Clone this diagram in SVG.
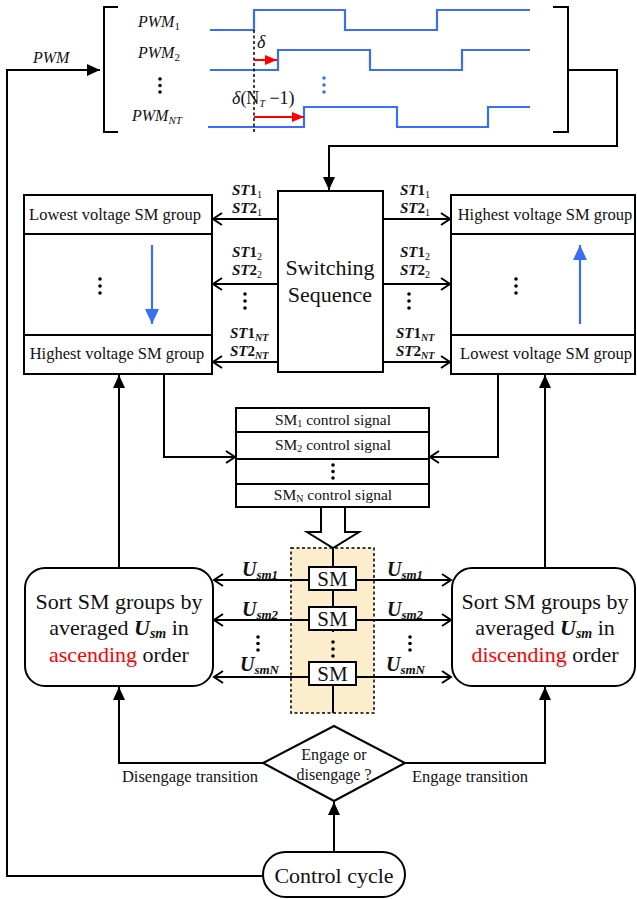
<svg xmlns="http://www.w3.org/2000/svg" width="637" height="899" viewBox="0 0 637 899" font-family="'Liberation Serif', serif">
<style>
text{font-family:"Liberation Serif",serif;fill:#111}
.ln{fill:none;stroke:#000;stroke-width:2}
.box{fill:#fff;stroke:#000;stroke-width:2}
.wave{fill:none;stroke:#3a6ff5;stroke-width:2.2}
.it{font-style:italic}
.up{font-style:normal}
.b{font-weight:bold}
</style>
<defs>
<marker id="af" markerUnits="userSpaceOnUse" markerWidth="14" markerHeight="12" refX="13" refY="6" orient="auto"><path d="M0,0 L13,6 L0,12 z" fill="#000"/></marker>
<marker id="ao" markerUnits="userSpaceOnUse" markerWidth="12" markerHeight="16" refX="10" refY="7" orient="auto"><path d="M1,1 L10,7 L1,13" fill="none" stroke="#000" stroke-width="2"/></marker>
<marker id="ab" markerUnits="userSpaceOnUse" markerWidth="14" markerHeight="16" refX="15" refY="7" orient="auto"><path d="M0,0 L15,7 L0,14 z" fill="#3a6ff5"/></marker>
<marker id="ar" markerUnits="userSpaceOnUse" markerWidth="12" markerHeight="10" refX="12" refY="5" orient="auto"><path d="M0,0 L12,5 L0,10 z" fill="#f00"/></marker>
</defs>

<g id="pwm-waves">
<path class="ln" d="M118,7 H104 V132 H118"/>
<path class="ln" d="M553,7 H568 V132 H553"/>
<text x="138" y="27" font-size="16" class="it">PWM<tspan font-size="11" dy="3" class="up">1</tspan></text>
<text x="138" y="58" font-size="16" class="it">PWM<tspan font-size="11" dy="3" class="up">2</tspan></text>
<text x="132" y="121" font-size="16" class="it">PWM<tspan font-size="11" dy="3">NT</tspan></text>
<g fill="#000"><circle cx="160" cy="79" r="1.8"/><circle cx="160" cy="85.5" r="1.8"/><circle cx="160" cy="92" r="1.8"/></g>
<path class="wave" d="M210,30 H254 V10 H345 V30 H437 V10 H530"/>
<path class="wave" d="M210,70 H278 V50 H370 V70 H462 V50 H530"/>
<path class="wave" d="M208,127 H304 V107 H397 V127 H488 V107 H530"/>
<g fill="#3a6ff5"><circle cx="324" cy="78" r="1.8"/><circle cx="324" cy="85" r="1.8"/><circle cx="324" cy="92" r="1.8"/></g>
<line x1="254" y1="30" x2="254" y2="132" stroke="#000" stroke-width="1.5" stroke-dasharray="3,2.5"/>
<text x="257" y="48" font-size="18" class="it">δ</text>
<line x1="254" y1="60" x2="277" y2="60" stroke="#f00" stroke-width="2" marker-end="url(#ar)"/>
<text x="232" y="104" font-size="18"><tspan class="it">δ</tspan>(N<tspan font-size="10" dy="3" class="it">T</tspan><tspan dy="-3"> −1)</tspan></text>
<line x1="254" y1="117" x2="304" y2="117" stroke="#f00" stroke-width="2" marker-end="url(#ar)"/>
<text x="33" y="63" font-size="16" class="it">PWM</text>
</g>

<g id="switching-sequence">
<rect class="box" x="278" y="191" width="105" height="181"/>
<text x="330" y="275" font-size="22" text-anchor="middle">Switching</text>
<text x="330" y="302" font-size="22" text-anchor="middle">Sequence</text>
</g>

<g id="left-group">
<rect class="box" x="24" y="195" width="188" height="179"/>
<line class="ln" x1="24" y1="234" x2="212" y2="234"/>
<line class="ln" x1="24" y1="335" x2="212" y2="335"/>
<text x="115" y="220" font-size="16.5" text-anchor="middle">Lowest voltage SM group</text>
<text x="117" y="359" font-size="16.5" text-anchor="middle">Highest voltage SM group</text>
<g fill="#000"><circle cx="100" cy="279" r="1.8"/><circle cx="100" cy="286" r="1.8"/><circle cx="100" cy="293" r="1.8"/></g>
<line x1="152" y1="245" x2="152" y2="324" stroke="#3a6ff5" stroke-width="2.2" marker-end="url(#ab)"/>
</g>

<g id="right-group">
<rect class="box" x="451" y="195" width="184" height="179"/>
<line class="ln" x1="451" y1="234" x2="635" y2="234"/>
<line class="ln" x1="451" y1="335" x2="635" y2="335"/>
<text x="545" y="220" font-size="16.5" text-anchor="middle">Highest voltage SM group</text>
<text x="546" y="359" font-size="16.5" text-anchor="middle">Lowest voltage SM group</text>
<g fill="#000"><circle cx="516" cy="279" r="1.8"/><circle cx="516" cy="286" r="1.8"/><circle cx="516" cy="293" r="1.8"/></g>
<line x1="580" y1="324" x2="580" y2="245" stroke="#3a6ff5" stroke-width="2.2" marker-end="url(#ab)"/>
</g>

<g id="st-labels" font-size="15" font-weight="bold">
<text x="232" y="195"><tspan class="it">ST</tspan>1<tspan font-size="10" dy="3" font-weight="normal">1</tspan></text>
<text x="232" y="213"><tspan class="it">ST</tspan>2<tspan font-size="10" dy="3" font-weight="normal">1</tspan></text>
<text x="232" y="257"><tspan class="it">ST</tspan>1<tspan font-size="10" dy="3" font-weight="normal">2</tspan></text>
<text x="232" y="275"><tspan class="it">ST</tspan>2<tspan font-size="10" dy="3" font-weight="normal">2</tspan></text>
<text x="230" y="338"><tspan class="it">ST</tspan>1<tspan font-size="10" dy="3" class="it">NT</tspan></text>
<text x="230" y="356"><tspan class="it">ST</tspan>2<tspan font-size="10" dy="3" class="it">NT</tspan></text>
<text x="400" y="195"><tspan class="it">ST</tspan>1<tspan font-size="10" dy="3" font-weight="normal">1</tspan></text>
<text x="400" y="213"><tspan class="it">ST</tspan>2<tspan font-size="10" dy="3" font-weight="normal">1</tspan></text>
<text x="400" y="257"><tspan class="it">ST</tspan>1<tspan font-size="10" dy="3" font-weight="normal">2</tspan></text>
<text x="400" y="275"><tspan class="it">ST</tspan>2<tspan font-size="10" dy="3" font-weight="normal">2</tspan></text>
<text x="396" y="338"><tspan class="it">ST</tspan>1<tspan font-size="10" dy="3" class="it">NT</tspan></text>
<text x="396" y="356"><tspan class="it">ST</tspan>2<tspan font-size="10" dy="3" class="it">NT</tspan></text>
<g fill="#000"><circle cx="245" cy="294" r="1.8"/><circle cx="245" cy="301" r="1.8"/><circle cx="245" cy="308" r="1.8"/><circle cx="409" cy="294" r="1.8"/><circle cx="409" cy="301" r="1.8"/><circle cx="409" cy="308" r="1.8"/></g>
</g>

<g id="control-signals">
<rect class="box" x="236" y="408" width="193" height="99"/>
<line class="ln" x1="236" y1="432" x2="429" y2="432"/>
<line class="ln" x1="236" y1="459" x2="429" y2="459"/>
<line class="ln" x1="236" y1="484" x2="429" y2="484"/>
<text x="333" y="425" font-size="15.5" text-anchor="middle">SM<tspan font-size="10" dy="2">1</tspan><tspan dy="-2"> control signal</tspan></text>
<text x="333" y="450" font-size="15.5" text-anchor="middle">SM<tspan font-size="10" dy="2">2</tspan><tspan dy="-2"> control signal</tspan></text>
<text x="333" y="500" font-size="15.5" text-anchor="middle">SM<tspan font-size="10" dy="2">N</tspan><tspan dy="-2"> control signal</tspan></text>
<g fill="#000"><circle cx="333" cy="465" r="1.8"/><circle cx="333" cy="471.5" r="1.8"/><circle cx="333" cy="478" r="1.8"/></g>
<polygon points="321,507 321,532 307,532 333,548 359,532 345,532 345,507" fill="#fff" stroke="#000" stroke-width="2"/>
</g>

<g id="sm-column">
<rect x="291" y="548" width="83" height="165" fill="#fcedcc" stroke="#000" stroke-width="1.5" stroke-dasharray="3,2.5"/>
<line class="ln" x1="333" y1="548" x2="333" y2="713"/>
<rect class="box" x="309" y="567" width="47" height="23"/>
<rect class="box" x="309" y="607" width="47" height="23"/>
<rect class="box" x="309" y="662" width="47" height="23"/>
<rect x="326" y="632" width="14" height="29" fill="#fcedcc"/>
<g fill="#000"><circle cx="333" cy="642" r="1.8"/><circle cx="333" cy="649" r="1.8"/><circle cx="333" cy="656" r="1.8"/></g>
<text x="332.5" y="586" font-size="21" text-anchor="middle">SM</text>
<text x="332.5" y="626" font-size="21" text-anchor="middle">SM</text>
<text x="332.5" y="681" font-size="21" text-anchor="middle">SM</text>
</g>

<g id="sort-ascending">
<rect class="box" x="25" y="568" width="188" height="118" rx="20"/>
<text x="119" y="609" font-size="22" text-anchor="middle">Sort SM groups by</text>
<text x="119" y="635" font-size="22" text-anchor="middle">averaged <tspan class="it b">U</tspan><tspan class="it b" font-size="14" dy="3">sm</tspan><tspan dy="-3"> in</tspan></text>
<text x="119" y="662" font-size="22" text-anchor="middle"><tspan fill="#f00">ascending</tspan> order</text>
</g>

<g id="sort-descending">
<rect class="box" x="452" y="568" width="183" height="118" rx="20"/>
<text x="545" y="609" font-size="22" text-anchor="middle">Sort SM groups by</text>
<text x="545" y="635" font-size="22" text-anchor="middle">averaged <tspan class="it b">U</tspan><tspan class="it b" font-size="14" dy="3">sm</tspan><tspan dy="-3"> in</tspan></text>
<text x="545" y="662" font-size="22" text-anchor="middle"><tspan fill="#f00">discending</tspan> order</text>
</g>

<g id="usm-labels" class="b">
<text x="242" y="576" font-size="20" class="it">U<tspan font-size="13" dy="3">sm1</tspan></text>
<text x="242" y="616" font-size="20" class="it">U<tspan font-size="13" dy="3">sm2</tspan></text>
<text x="240" y="671" font-size="20" class="it">U<tspan font-size="13" dy="3">smN</tspan></text>
<text x="387" y="576" font-size="20" class="it">U<tspan font-size="13" dy="3">sm1</tspan></text>
<text x="387" y="616" font-size="20" class="it">U<tspan font-size="13" dy="3">sm2</tspan></text>
<text x="386" y="671" font-size="20" class="it">U<tspan font-size="13" dy="3">smN</tspan></text>
<g fill="#000"><circle cx="258" cy="637" r="1.8"/><circle cx="258" cy="643.5" r="1.8"/><circle cx="258" cy="650" r="1.8"/><circle cx="410" cy="637" r="1.8"/><circle cx="410" cy="643.5" r="1.8"/><circle cx="410" cy="650" r="1.8"/></g>
</g>

<g id="decision">
<polygon points="334,726 405,763 334,801 263,763" fill="#fff" stroke="#000" stroke-width="2"/>
<text x="334" y="760" font-size="16" text-anchor="middle">Engage or</text>
<text x="334" y="780" font-size="16" text-anchor="middle">disengage ?</text>
<text x="190" y="782" font-size="16.5" text-anchor="middle">Disengage transition</text>
<text x="470" y="782" font-size="16.5" text-anchor="middle">Engage transition</text>
</g>

<g id="control-cycle">
<rect class="box" x="263" y="852" width="142" height="45" rx="22.5"/>
<text x="334" y="883" font-size="22" text-anchor="middle">Control cycle</text>
</g>

<g id="connectors">
<path class="ln" d="M263,876 H7 V70 H100" marker-end="url(#af)"/>
<path class="ln" d="M568,70 H617 V146 H329 V190" marker-end="url(#af)"/>
<line class="ln" x1="278" y1="219" x2="213" y2="219" marker-end="url(#ao)"/>
<line class="ln" x1="278" y1="284" x2="213" y2="284" marker-end="url(#ao)"/>
<line class="ln" x1="278" y1="362" x2="213" y2="362" marker-end="url(#ao)"/>
<line class="ln" x1="383" y1="219" x2="450" y2="219" marker-end="url(#ao)"/>
<line class="ln" x1="383" y1="284" x2="450" y2="284" marker-end="url(#ao)"/>
<line class="ln" x1="383" y1="362" x2="450" y2="362" marker-end="url(#ao)"/>
<path class="ln" d="M164,374 V457 H235" marker-end="url(#ao)"/>
<path class="ln" d="M498,374 V457 H430" marker-end="url(#ao)"/>
<line class="ln" x1="309" y1="580" x2="214" y2="580" marker-end="url(#ao)"/>
<line class="ln" x1="309" y1="620" x2="214" y2="620" marker-end="url(#ao)"/>
<line class="ln" x1="309" y1="677" x2="214" y2="677" marker-end="url(#ao)"/>
<line class="ln" x1="356" y1="580" x2="451" y2="580" marker-end="url(#ao)"/>
<line class="ln" x1="356" y1="620" x2="451" y2="620" marker-end="url(#ao)"/>
<line class="ln" x1="356" y1="677" x2="451" y2="677" marker-end="url(#ao)"/>
<line class="ln" x1="119" y1="568" x2="119" y2="375" marker-end="url(#af)"/>
<line class="ln" x1="545" y1="568" x2="545" y2="375" marker-end="url(#af)"/>
<path class="ln" d="M263,763 H119 V687" marker-end="url(#af)"/>
<path class="ln" d="M405,763 H545 V687" marker-end="url(#af)"/>
<line class="ln" x1="334" y1="852" x2="334" y2="802" marker-end="url(#af)"/>
</g>
</svg>
